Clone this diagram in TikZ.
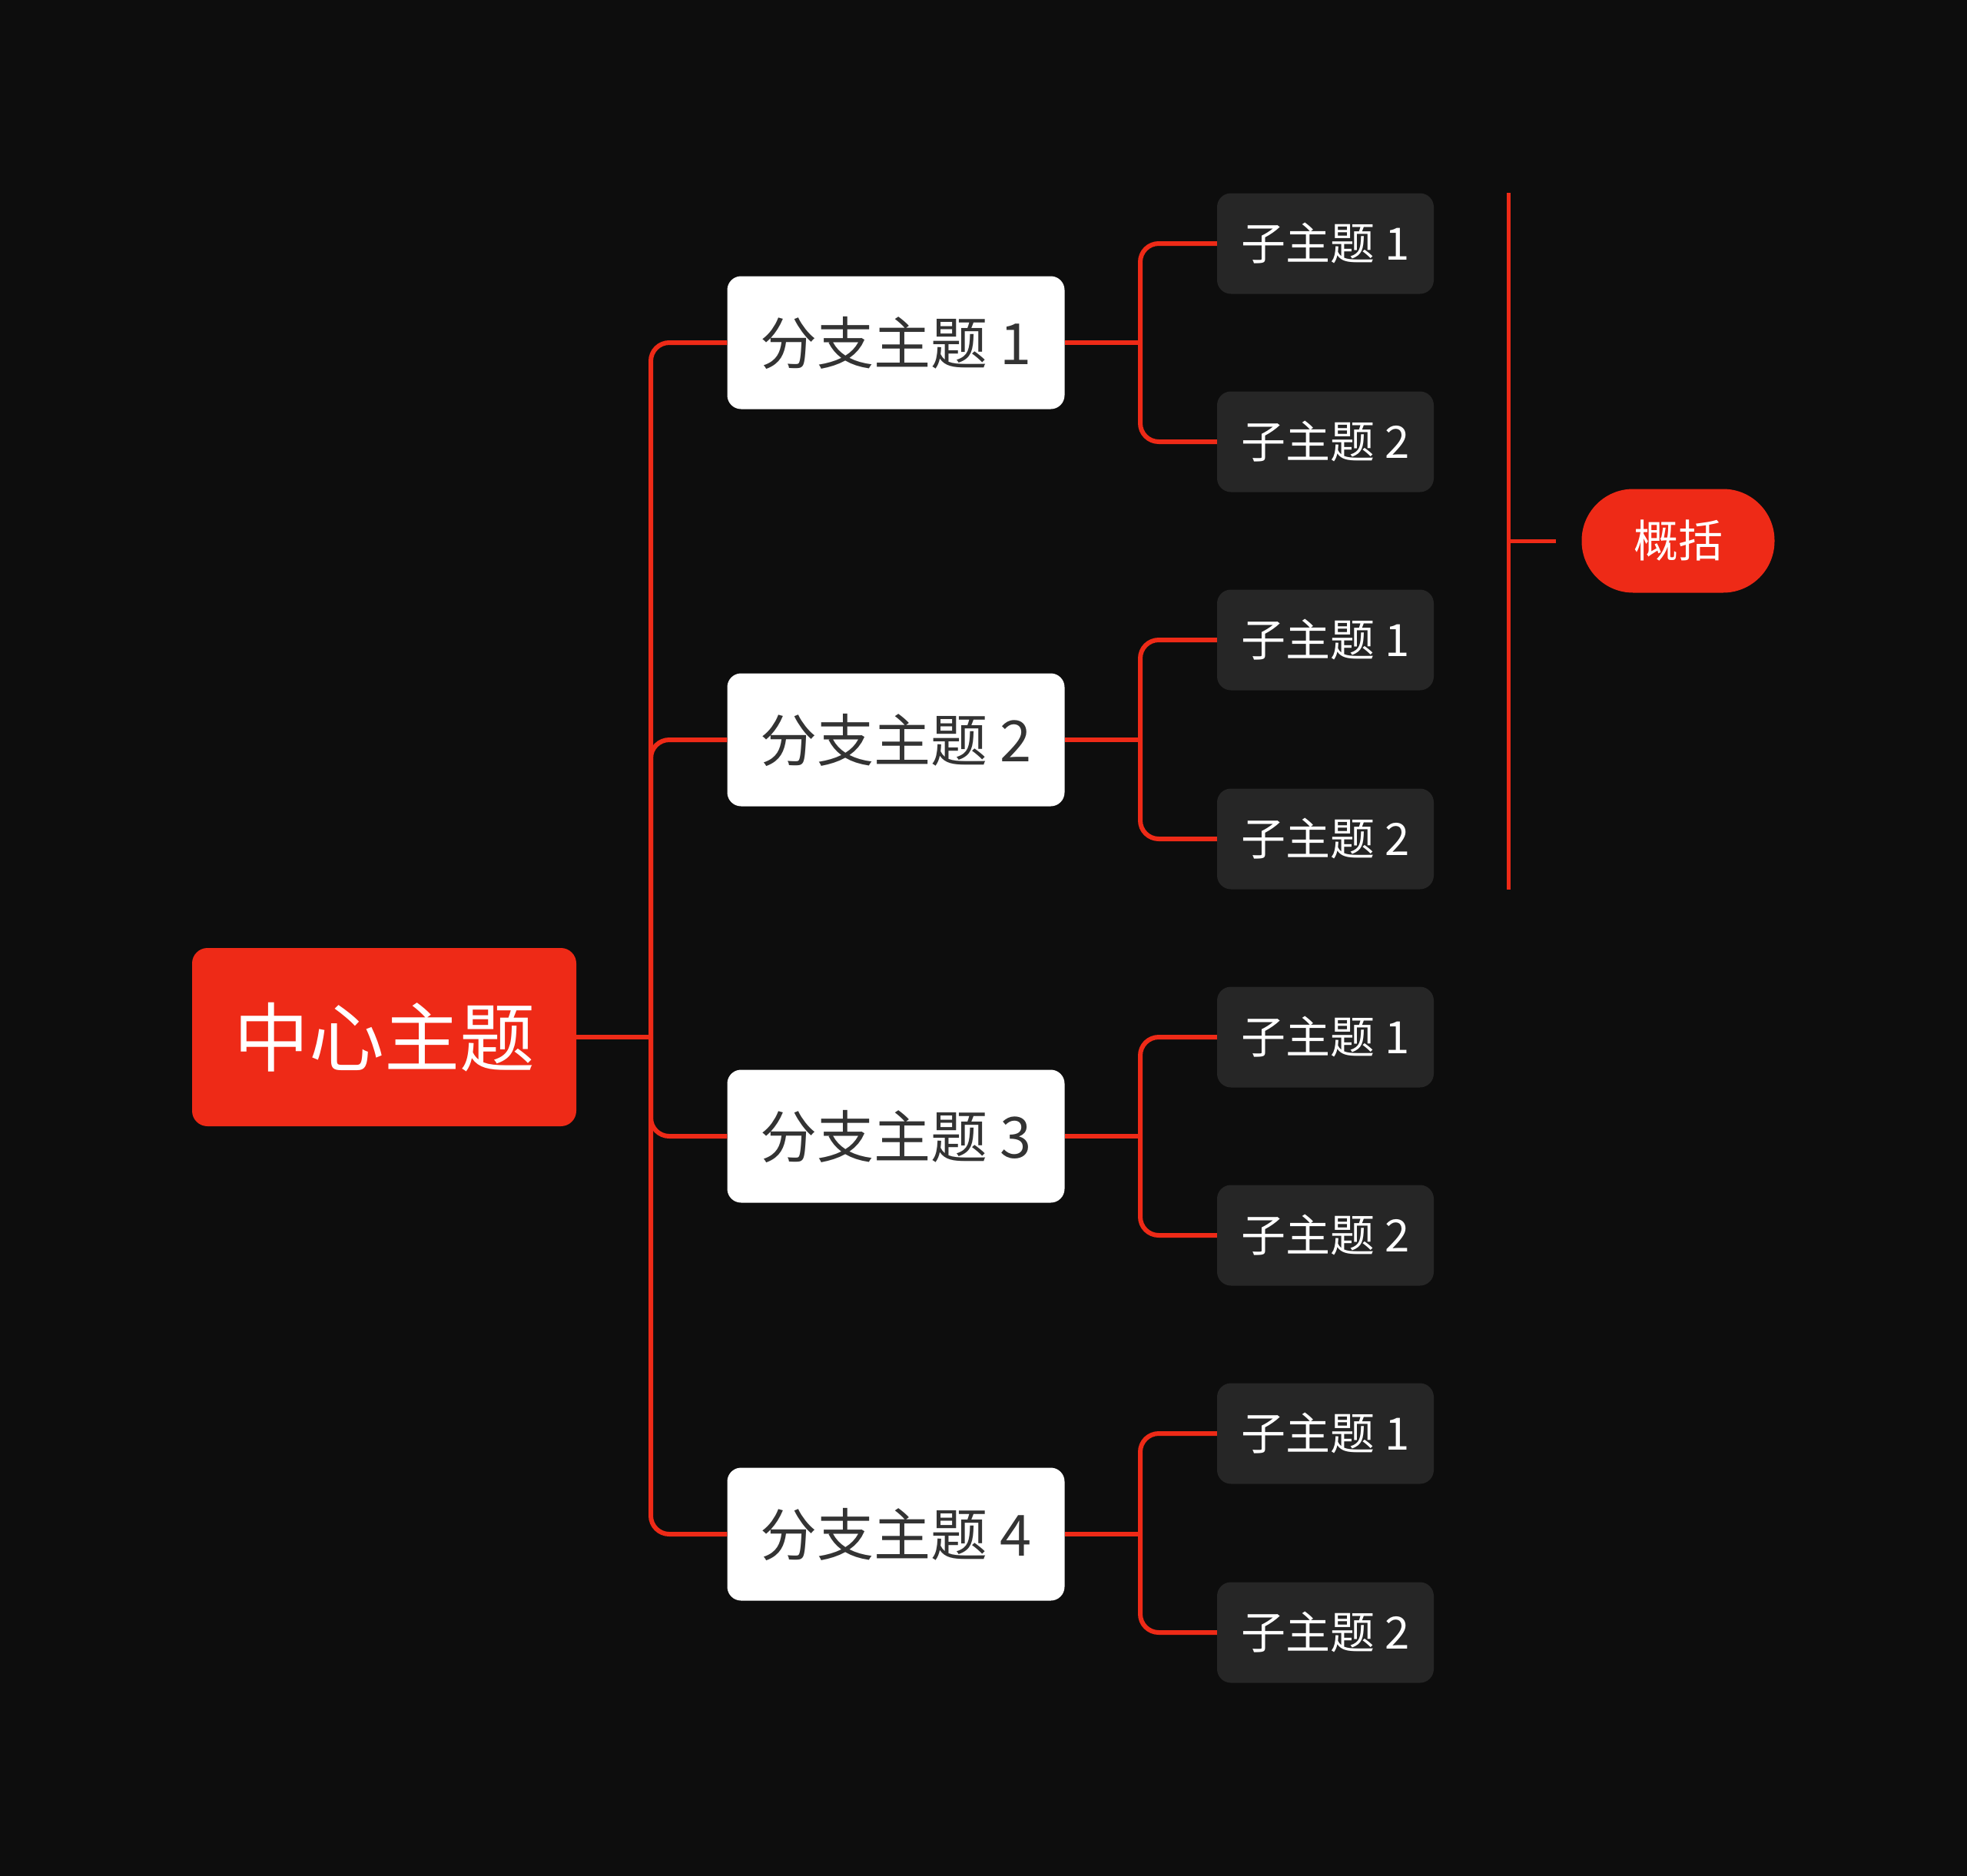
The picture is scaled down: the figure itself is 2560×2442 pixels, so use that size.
\documentclass[tikz,border=0pt]{standalone}
\usepackage{fontspec}
\setmainfont{Noto Sans CJK SC}
\usetikzlibrary{calc}
\definecolor{bgdark}{RGB}{13,13,13}
\definecolor{mapred}{RGB}{238,42,23}
\definecolor{subgray}{RGB}{38,38,38}
\definecolor{txtgray}{RGB}{51,51,51}

\begin{document}
\begin{tikzpicture}[x=1pt,y=1pt,yscale=-1,xscale=1,
	central/.style={fill=mapred,rounded corners=20pt,minimum width=500pt,minimum height=232pt,inner sep=0pt,text=white,font=\fontsize{98}{98}\selectfont},
	branch/.style={fill=white,rounded corners=18pt,minimum width=439pt,minimum height=173pt,inner sep=0pt,text=txtgray,font=\fontsize{74}{74}\selectfont},
	subtopic/.style={fill=subgray,rounded corners=18pt,minimum width=282pt,minimum height=131pt,inner sep=0pt,text=white,font=\fontsize{58}{58}\selectfont},
	summary/.style={fill=mapred,rounded corners=67pt,minimum width=251pt,minimum height=135pt,inner sep=0pt,text=white,font=\fontsize{58}{58}\selectfont},
	link/.style={draw=mapred,line width=6pt},
	elbow/.style={link,rounded corners=24pt}]

		%Background
		\fill [bgdark] (0,0) rectangle (2560,2442);

		% Text Node
		\draw (500,1350) node (c) [central] {中心主题};
		% Text Node
		\draw (1166,446) node (b1) [branch] {分支主题\ 1};
		% Text Node
		\draw (1166,963) node (b2) [branch] {分支主题\ 2};
		% Text Node
		\draw (1166,1479) node (b3) [branch] {分支主题\ 3};
		% Text Node
		\draw (1166,1997) node (b4) [branch] {分支主题\ 4};

		% Text Node
		\draw (1725,317) node (s11) [subtopic] {子主题 1};
		\draw (1725,575) node (s12) [subtopic] {子主题 2};
		\draw (1725,833) node (s21) [subtopic] {子主题 1};
		\draw (1725,1092) node (s22) [subtopic] {子主题 2};
		\draw (1725,1350) node (s31) [subtopic] {子主题 1};
		\draw (1725,1608) node (s32) [subtopic] {子主题 2};
		\draw (1725,1866) node (s41) [subtopic] {子主题 1};
		\draw (1725,2125) node (s42) [subtopic] {子主题 2};

		% Text Node
		\draw (2184,704) node (sum) [summary] {概括};

		%Trunk and bracket positions
		\coordinate (trunk) at (847,0);
		\coordinate (fork) at (1484,0);

		%Straight Lines
		\draw [link] (c.east) -- (trunk |- c.east);
		\foreach \b in {b1,b2,b3,b4}
			\draw [elbow] (trunk |- c.east) |- (\b.west);

		%Straight Lines
		\foreach \b/\s in {b1/s11,b1/s12,b2/s21,b2/s22,b3/s31,b3/s32,b4/s41,b4/s42}{
			\draw [link] (\b.east) -- (fork |- \b.east);
			\draw [elbow] (fork |- \b.east) |- (\s.west);
		}

		%Summary bracket
		\coordinate (sumtop) at (1963,251);
		\coordinate (sumbot) at (1963,1158);
		\coordinate (sumtick) at (2025,704);
		\draw [link,line width=5pt] (sumtop) -- (sumbot);
		\draw [link,line width=5pt] (sumtop |- sumtick) -- (sumtick);
\end{tikzpicture}
\end{document}
